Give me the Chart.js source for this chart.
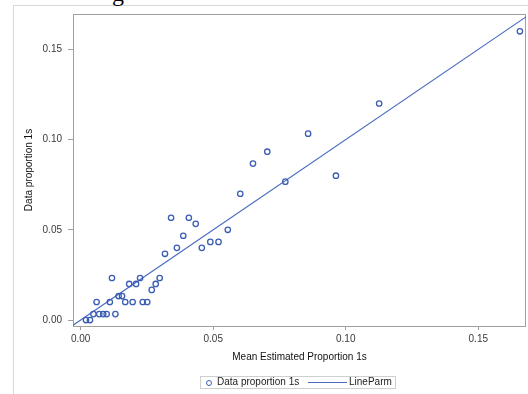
<!DOCTYPE html>
<html>
<head>
<meta charset="utf-8">
<script src="https://cdn.jsdelivr.net/npm/chart.js@4/dist/chart.umd.min.js"></script>
<style>
  html, body { margin: 0; padding: 0; background: #fff; overflow: hidden; }
  #wrap { position: relative; width: 528px; height: 394px; }
  #frame { position: absolute; left: 13px; top: 5px; width: 600px; height: 500px; border-left: 1px solid #d9d9d9; border-top: 1px solid #d9d9d9; }
  #titulo { position: absolute; left: 112px; top: -20px; font: 24px "Liberation Serif", serif; color: #000; }
  canvas { position: absolute; left: 0; top: 0; }
  #legenda { position: absolute; left: 200px; top: 376px; width: 194px; height: 11px; border: 1px solid #cfcfcf; font: 10px "Liberation Sans", Arial, sans-serif; color: #222; }
  #legenda span { position: absolute; top: -1px; white-space: nowrap; }
  .marcador { position: absolute; left: 5px; top: 3px; width: 4px; height: 4px; border: 1.3px solid #3b5db4; border-radius: 50%; }
  .linha { position: absolute; left: 107px; top: 5px; width: 39px; border-top: 1.2px solid #4a6cc0; }
</style>
</head>
<body>
<div id="wrap">
  <div id="frame"></div>
  <div id="titulo">g</div>
  <canvas id="grafico" width="528" height="394"></canvas>
  <div id="legenda">
    <div class="marcador"></div><span style="left:16px">Data proportion 1s</span>
    <div class="linha"></div><span style="left:148px">LineParm</span>
  </div>
</div>
<script>
// DADOS
const mediaEstimada = [0.0020, 0.0035, 0.0048, 0.0070, 0.0085, 0.0098, 0.0131, 0.0060, 0.0110, 0.0168,
  0.0196, 0.0234, 0.0251, 0.0118, 0.0143, 0.0156, 0.0183, 0.0209, 0.0224, 0.0268,
  0.0283, 0.0298, 0.0318, 0.0341, 0.0363, 0.0387, 0.0408, 0.0434, 0.0457, 0.0489,
  0.0520, 0.0555, 0.0602, 0.0650, 0.0704, 0.0772, 0.0858, 0.0963, 0.1126, 0.1657];
const proporcaoDados = [0.0000, 0.0000, 0.0033, 0.0033, 0.0033, 0.0033, 0.0033, 0.0100, 0.0100, 0.0100,
  0.0100, 0.0100, 0.0100, 0.0233, 0.0133, 0.0133, 0.0200, 0.0200, 0.0233, 0.0167,
  0.0200, 0.0233, 0.0367, 0.0567, 0.0400, 0.0467, 0.0567, 0.0533, 0.0400, 0.0433,
  0.0433, 0.0500, 0.0700, 0.0867, 0.0933, 0.0767, 0.1033, 0.0800, 0.1200, 0.1600];
const linhaX = [-0.01, 0.2];
const linhaY = [-0.01, 0.2];
const ticksX = [0, 0.05, 0.10, 0.15];
const ticksY = [0, 0.05, 0.10, 0.15];

const corPonto = "#3b5db4";
const corLinha = "#4a6cc0";
const corEixo = "#a0a0a0";
const fonte = "'Liberation Sans', Arial, sans-serif";

// MOLDURA DO GRAFICO
const moldura = {
  id: "moldura",
  beforeDatasetsDraw(chart) {
    const { ctx, chartArea: a } = chart;
    ctx.save();
    ctx.strokeStyle = corEixo;
    ctx.lineWidth = 1;
    ctx.strokeRect(a.left + 0.5, a.top + 0.5, a.right - a.left - 1, a.bottom - a.top);
    ctx.restore();
  }
};

const eixo = (ticks, min, max, titulo, tamTick, padTick, padTitulo, extra) => Object.assign({
  type: "linear",
  min, max,
  afterBuildTicks: s => { s.ticks = ticks.map(v => ({ value: v })); },
  border: { display: false },
  grid: { display: true, drawOnChartArea: false, drawTicks: true, color: corEixo, tickLength: tamTick },
  ticks: { color: "#3a3a3a", font: { family: fonte, size: 10 }, padding: padTick, callback: v => v.toFixed(2) },
  title: { display: true, text: titulo, color: "#111", font: { family: fonte, size: 10 }, padding: padTitulo }
}, extra);

new Chart(document.getElementById("grafico").getContext("2d"), {
  type: "scatter",
  data: {
    datasets: [
      {
        label: "Data proportion 1s",
        data: mediaEstimada.map((x, i) => ({ x, y: proporcaoDados[i] })),
        pointStyle: "circle",
        pointRadius: 2.7,
        pointBorderWidth: 1.3,
        pointBorderColor: corPonto,
        pointBackgroundColor: "rgba(0,0,0,0)",
        showLine: false
      },
      {
        label: "LineParm",
        type: "line",
        data: linhaX.map((x, i) => ({ x, y: linhaY[i] })),
        borderColor: corLinha,
        borderWidth: 1.2,
        pointRadius: 0,
        fill: false
      }
    ]
  },
  options: {
    responsive: false,
    animation: false,
    layout: { autoPadding: false, padding: { left: 18, top: 14, right: 2, bottom: 30 } },
    plugins: { legend: { display: false }, tooltip: { enabled: false } },
    scales: {
      x: eixo(ticksX, -0.0029, 0.168, "Mean Estimated Proportion 1s", 4, 3, { top: 0, bottom: 0.5 }, {
        afterFit: s => { s.height = 38; s.paddingRight = 0; s.paddingLeft = 0; }
      }),
      y: eixo(ticksY, -0.0033, 0.1696, "Data proportion 1s", 5, 6, { top: 5.5, bottom: 0 }, {
        afterFit: s => { s.width = 55; s.paddingTop = 0; s.paddingBottom = 0; }
      })
    }
  },
  plugins: [moldura]
});
</script>
</body>
</html>
